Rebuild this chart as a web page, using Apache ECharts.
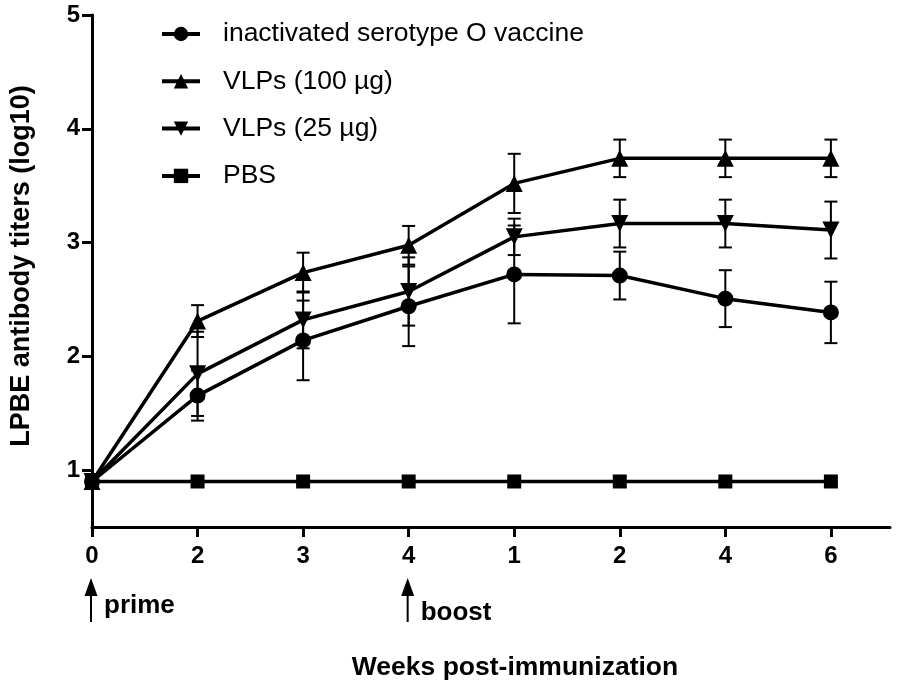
<!DOCTYPE html>
<html>
<head>
<meta charset="utf-8">
<script src="https://cdn.jsdelivr.net/npm/echarts@6/dist/echarts.min.js"></script>
<style>
  html, body { margin: 0; padding: 0; background: #fff; }
  #main { width: 899px; height: 690px; }
</style>
</head>
<body>
<div id="main"></div>
<script>
var chart = echarts.init(document.getElementById('main'));

// x tick labels (weeks after prime, then weeks after boost)
const weeks = ['0', '2', '3', '4', '1', '2', '4', '6'];
const yTicks = [1, 2, 3, 4, 5];

const names = ['inactivated serotype O vaccine', 'VLPs (100 µg)', 'VLPs (25 µg)', 'PBS'];

// means (log10)
const inactMean = [0.9, 1.655, 2.14, 2.44, 2.72, 2.71, 2.507, 2.386];
const vlp100Mean = [0.9, 2.31, 2.736, 2.976, 3.52, 3.74, 3.74, 3.74];
const vlp25Mean = [0.9, 1.846, 2.32, 2.57, 3.05, 3.167, 3.167, 3.11];
const pbsMean = [0.9, 0.9, 0.9, 0.9, 0.9, 0.9, 0.9, 0.9];

// standard deviations
const inactSd = [0, 0.22, 0.35, 0.35, 0.43, 0.21, 0.25, 0.27];
const vlp100Sd = [0, 0.14, 0.175, 0.17, 0.26, 0.165, 0.165, 0.165];
const vlp25Sd = [0, 0.37, 0.25, 0.3, 0.16, 0.21, 0.21, 0.25];
const pbsSd = [0, 0, 0, 0, 0, 0, 0, 0];

// annotations under the x axis
const events = [{ at: 0, label: 'prime', dy: 0 }, { at: 3, label: 'boost', dy: 7 }];

const FONT = '"Liberation Sans", Arial, sans-serif';

function pts(arr) {
    return arr.map(function (v, i) { return [i, v]; });
}
function errPts(mean, sd) {
    return mean.map(function (v, i) { return [i, v, sd[i]]; });
}

function errRender(params, api) {
    var sd = api.value(2);
    if (!sd) return null;
    var x = api.value(0), y = api.value(1);
    var top = api.coord([x, y + sd]);
    var bot = api.coord([x, y - sd]);
    var hw = 6.5;
    var st = { stroke: '#000', lineWidth: 2 };
    return {
        type: 'group',
        children: [
            { type: 'line', shape: { x1: top[0], y1: top[1], x2: bot[0], y2: bot[1] }, style: st },
            { type: 'line', shape: { x1: top[0] - hw, y1: top[1], x2: top[0] + hw, y2: top[1] }, style: st },
            { type: 'line', shape: { x1: bot[0] - hw, y1: bot[1], x2: bot[0] + hw, y2: bot[1] }, style: st }
        ]
    };
}

function lineSeries(name, data, symbol, size, rotate) {
    return {
        name: name,
        type: 'line',
        data: pts(data),
        symbol: symbol,
        symbolSize: size,
        symbolRotate: rotate || 0,
        showAllSymbol: true,
        z: 3,
        itemStyle: { color: '#000' },
        lineStyle: { color: '#000', width: 3.5 }
    };
}
function errSeries(mean, sd) {
    return {
        type: 'custom',
        renderItem: errRender,
        data: errPts(mean, sd),
        z: 2,
        silent: true
    };
}

option = {
    backgroundColor: '#fff',
    animation: false,
    textStyle: { fontFamily: FONT, color: '#000' },
    grid: { left: 89, right: 9, top: 15, bottom: 163, containLabel: false },
    legend: {
        orient: 'vertical',
        left: 155,
        top: 13.5,
        itemWidth: 38,
        itemHeight: 18,
        itemGap: 16.3,
        data: names,
        lineStyle: { width: 4, color: '#000' },
        textStyle: { fontFamily: FONT, fontSize: 26.5, color: '#000', padding: [0, 0, 0, 18], lineHeight: 31 }
    },
    xAxis: {
        type: 'value',
        min: 0,
        max: 7.56,
        splitLine: { show: false },
        axisLine: { onZero: false, lineStyle: { color: '#000', width: 3 } },
        axisTick: { length: 10, lineStyle: { color: '#000', width: 3 }, customValues: [0, 1, 2, 3, 4, 5, 6, 7] },
        axisLabel: {
            customValues: [0, 1, 2, 3, 4, 5, 6, 7],
            formatter: function (v) { return weeks[v]; },
            fontFamily: FONT, fontSize: 24, fontWeight: 'bold', color: '#000', margin: 17
        },
        name: 'Weeks post-immunization',
        nameLocation: 'middle',
        nameGap: 127,
        nameTextStyle: { fontFamily: FONT, fontSize: 26.5, fontWeight: 'bold', color: '#000', padding: [0, 0, 0, 48] }
    },
    yAxis: {
        type: 'value',
        min: 0.5,
        max: 5,
        splitLine: { show: false },
        axisLine: { onZero: false, lineStyle: { color: '#000', width: 3 } },
        axisTick: { length: 10, lineStyle: { color: '#000', width: 3 }, customValues: yTicks },
        axisLabel: {
            customValues: yTicks,
            fontFamily: FONT, fontSize: 24, fontWeight: 'bold', color: '#000', margin: 12
        },
        name: 'LPBE antibody titers (log10)',
        nameLocation: 'middle',
        nameGap: 57,
        nameTextStyle: { fontFamily: FONT, fontSize: 27, fontWeight: 'bold', color: '#000', padding: [0, 0, 0, 10] }
    },
    series: [
        lineSeries(names[0], inactMean, 'circle', 16),
        lineSeries(names[1], vlp100Mean, 'triangle', 17),
        lineSeries(names[2], vlp25Mean, 'triangle', 17, 180),
        lineSeries(names[3], pbsMean, 'rect', 14),
        errSeries(inactMean, inactSd),
        errSeries(vlp100Mean, vlp100Sd),
        errSeries(vlp25Mean, vlp25Sd),
        errSeries(pbsMean, pbsSd)
    ]
};
chart.setOption(option, true);

// prime / boost arrows placed from the x scale
var baseY = chart.convertToPixel({ gridIndex: 0 }, [0, 0.5])[1];
var gfx = [];
events.forEach(function (e) {
    var px = chart.convertToPixel({ gridIndex: 0 }, [e.at, 0.5])[0] - 1;
    gfx.push({ type: 'line', shape: { x1: px, y1: baseY + 68, x2: px, y2: baseY + 95 }, style: { stroke: '#000', lineWidth: 2 } });
    gfx.push({ type: 'polygon', shape: { points: [[px, baseY + 51], [px - 6.5, baseY + 69], [px + 6.5, baseY + 69]] }, style: { fill: '#000' } });
    gfx.push({
        type: 'text', x: px + 13, y: baseY + 79 + e.dy,
        style: { text: e.label, font: 'bold 26px ' + FONT, fill: '#000', textVerticalAlign: 'middle' }
    });
});
chart.setOption({ graphic: gfx });
</script>
</body>
</html>
